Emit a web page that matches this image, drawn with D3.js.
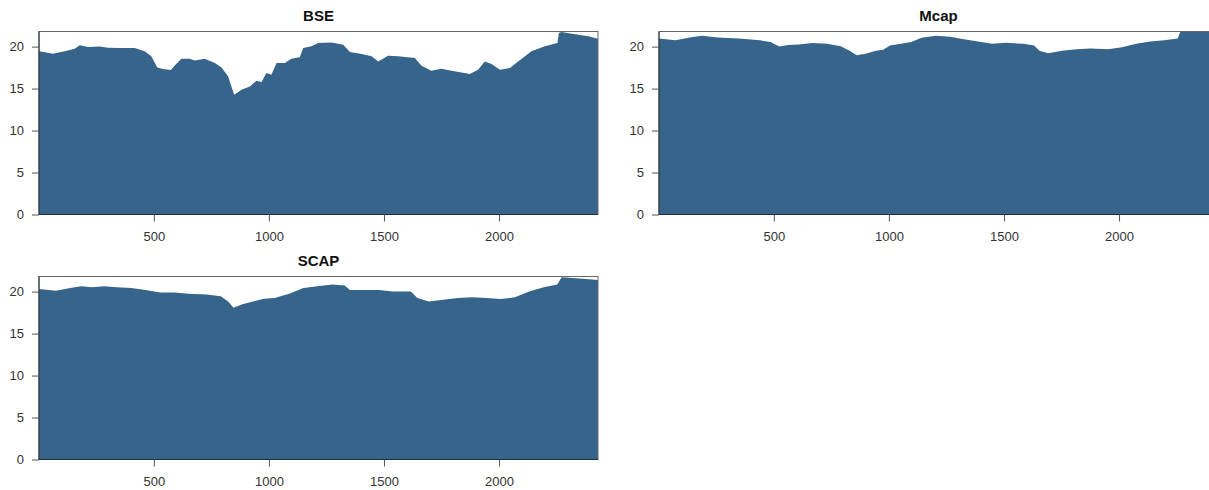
<!DOCTYPE HTML>
<html>

<head>
  <title>BSE / Mcap / SCAP</title>
  <meta charset="UTF-8">
</head>
<script src="https://d3js.org/d3.v7.min.js"></script>
<style>
  body {
    margin: 0;
    background: white;
  }

  svg {
    display: block;
    font-family: "Liberation Sans", Arial, sans-serif;
  }

  .area {
    fill: #36648B;
  }

  .box {
    fill: none;
    stroke: #666;
    stroke-width: 1;
  }

  .axis text {
    fill: #333;
    font-size: 13px;
  }

  .axis line,
  .axis path {
    stroke: #555;
  }

  .title {
    font-weight: bold;
    font-size: 15px;
    fill: #111;
  }
</style>

<body>
  <svg width="1209" height="490"></svg>
</body>
<script>

  // values (day index, level)
  var bseDays = [1, 62, 113, 156, 178, 214, 265, 301, 359, 417, 460, 489, 515, 540, 574, 594, 620, 656, 678, 721, 765, 794, 823, 837, 849, 881, 917, 946, 968, 989, 1011, 1033, 1069, 1098, 1134, 1149, 1185, 1214, 1272, 1323, 1352, 1403, 1446, 1475, 1518, 1562, 1634, 1663, 1706, 1750, 1793, 1837, 1873, 1909, 1938, 1967, 2004, 2047, 2083, 2141, 2199, 2254, 2260, 2271, 2344, 2387, 2430]
  var bseValues = [19.44, 19.15, 19.44, 19.75, 20.15, 19.95, 20.0, 19.87, 19.83, 19.83, 19.44, 18.84, 17.5, 17.32, 17.2, 17.84, 18.55, 18.55, 18.36, 18.55, 18.04, 17.52, 16.45, 15.26, 14.26, 14.85, 15.26, 15.93, 15.77, 16.85, 16.65, 18.04, 18.04, 18.55, 18.72, 19.83, 20.04, 20.43, 20.5, 20.23, 19.35, 19.12, 18.84, 18.24, 18.92, 18.84, 18.64, 17.72, 17.12, 17.36, 17.12, 16.93, 16.73, 17.24, 18.24, 17.92, 17.24, 17.44, 18.24, 19.44, 20.04, 20.43, 21.62, 21.74, 21.42, 21.23, 20.95]

  var mcapDays = [1, 73, 134, 188, 256, 348, 440, 485, 524, 562, 608, 669, 730, 791, 829, 860, 898, 944, 975, 1005, 1051, 1097, 1142, 1204, 1265, 1326, 1387, 1448, 1509, 1585, 1631, 1654, 1692, 1753, 1815, 1876, 1952, 2013, 2075, 2136, 2197, 2255, 2270, 2350, 2430]
  var mcapValues = [20.97, 20.75, 21.09, 21.3, 21.09, 20.97, 20.75, 20.55, 20.0, 20.2, 20.25, 20.42, 20.33, 20.04, 19.5, 18.98, 19.16, 19.5, 19.62, 20.12, 20.33, 20.55, 21.05, 21.3, 21.17, 20.88, 20.62, 20.33, 20.45, 20.33, 20.12, 19.5, 19.2, 19.5, 19.7, 19.78, 19.7, 19.92, 20.33, 20.62, 20.75, 20.97, 22.0, 22.0, 22.0]

  var scapDays = [1, 74, 137, 184, 231, 285, 340, 402, 464, 527, 589, 651, 729, 791, 823, 846, 885, 931, 978, 1025, 1088, 1150, 1212, 1275, 1329, 1352, 1415, 1477, 1539, 1617, 1645, 1695, 1757, 1820, 1882, 1945, 2007, 2069, 2131, 2194, 2253, 2272, 2335, 2430]
  var scapValues = [20.31, 20.1, 20.43, 20.64, 20.52, 20.64, 20.52, 20.43, 20.18, 19.88, 19.88, 19.75, 19.67, 19.45, 18.81, 18.09, 18.48, 18.81, 19.16, 19.24, 19.75, 20.43, 20.64, 20.86, 20.74, 20.18, 20.18, 20.18, 20.01, 20.01, 19.24, 18.81, 19.03, 19.24, 19.32, 19.24, 19.11, 19.32, 20.01, 20.52, 20.86, 21.71, 21.58, 21.37]

  var titles = ["BSE", "Mcap", "SCAP"]
  var xTicks = [500, 1000, 1500, 2000]
  var yTicks = [0, 5, 10, 15, 20]

  var panels = [
    { title: titles[0], days: bseDays, values: bseValues, col: 0, row: 0 },
    { title: titles[1], days: mcapDays, values: mcapValues, col: 1, row: 0 },
    { title: titles[2], days: scapDays, values: scapValues, col: 0, row: 1 }
  ]

  var svg = d3.select("svg")

  var plotW = 559
  var plotH = 183
  var colX = [39, 659]
  var rowY = [31.5, 276.5]

  var xScale = d3.scaleLinear().domain([1, 2430]).range([0, plotW])
  var yScale = d3.scaleLinear().domain([0, 21.8]).range([plotH, 0])

  panels.forEach(function(p, i) {
    var g = svg.append("g")
      .attr("transform", "translate(" + colX[p.col] + "," + rowY[p.row] + ")")

    var pts = p.days.map(function(d, j) { return { x: d, y: p.values[j] } })

    g.append("clipPath").attr("id", "clip" + i)
      .append("rect").attr("width", plotW).attr("height", plotH)

    var area = d3.area()
      .x(function(d) { return xScale(d.x) })
      .y0(yScale(0))
      .y1(function(d) { return yScale(d.y) })

    g.append("path")
      .datum(pts)
      .attr("class", "area")
      .attr("clip-path", "url(#clip" + i + ")")
      .attr("d", area)

    g.append("rect")
      .attr("class", "box")
      .attr("width", plotW)
      .attr("height", plotH)

    // darker left / bottom edges like the reference
    g.append("path")
      .attr("d", "M0,0V" + plotH + "H" + plotW)
      .attr("fill", "none")
      .attr("stroke", "#1d2f3d")

    g.append("g")
      .attr("class", "axis")
      .call(d3.axisLeft(yScale).tickValues(yTicks).tickSize(7).tickPadding(8))
      .call(function(a) { a.select(".domain").remove() })

    g.append("g")
      .attr("class", "axis")
      .attr("transform", "translate(0," + plotH + ")")
      .call(d3.axisBottom(xScale).tickValues(xTicks).tickSize(7).tickPadding(10).tickFormat(d3.format("d")))
      .call(function(a) { a.select(".domain").remove() })

    g.append("text")
      .attr("class", "title")
      .attr("x", plotW / 2)
      .attr("y", -11)
      .attr("text-anchor", "middle")
      .text(p.title)
  })
</script>

</html>
